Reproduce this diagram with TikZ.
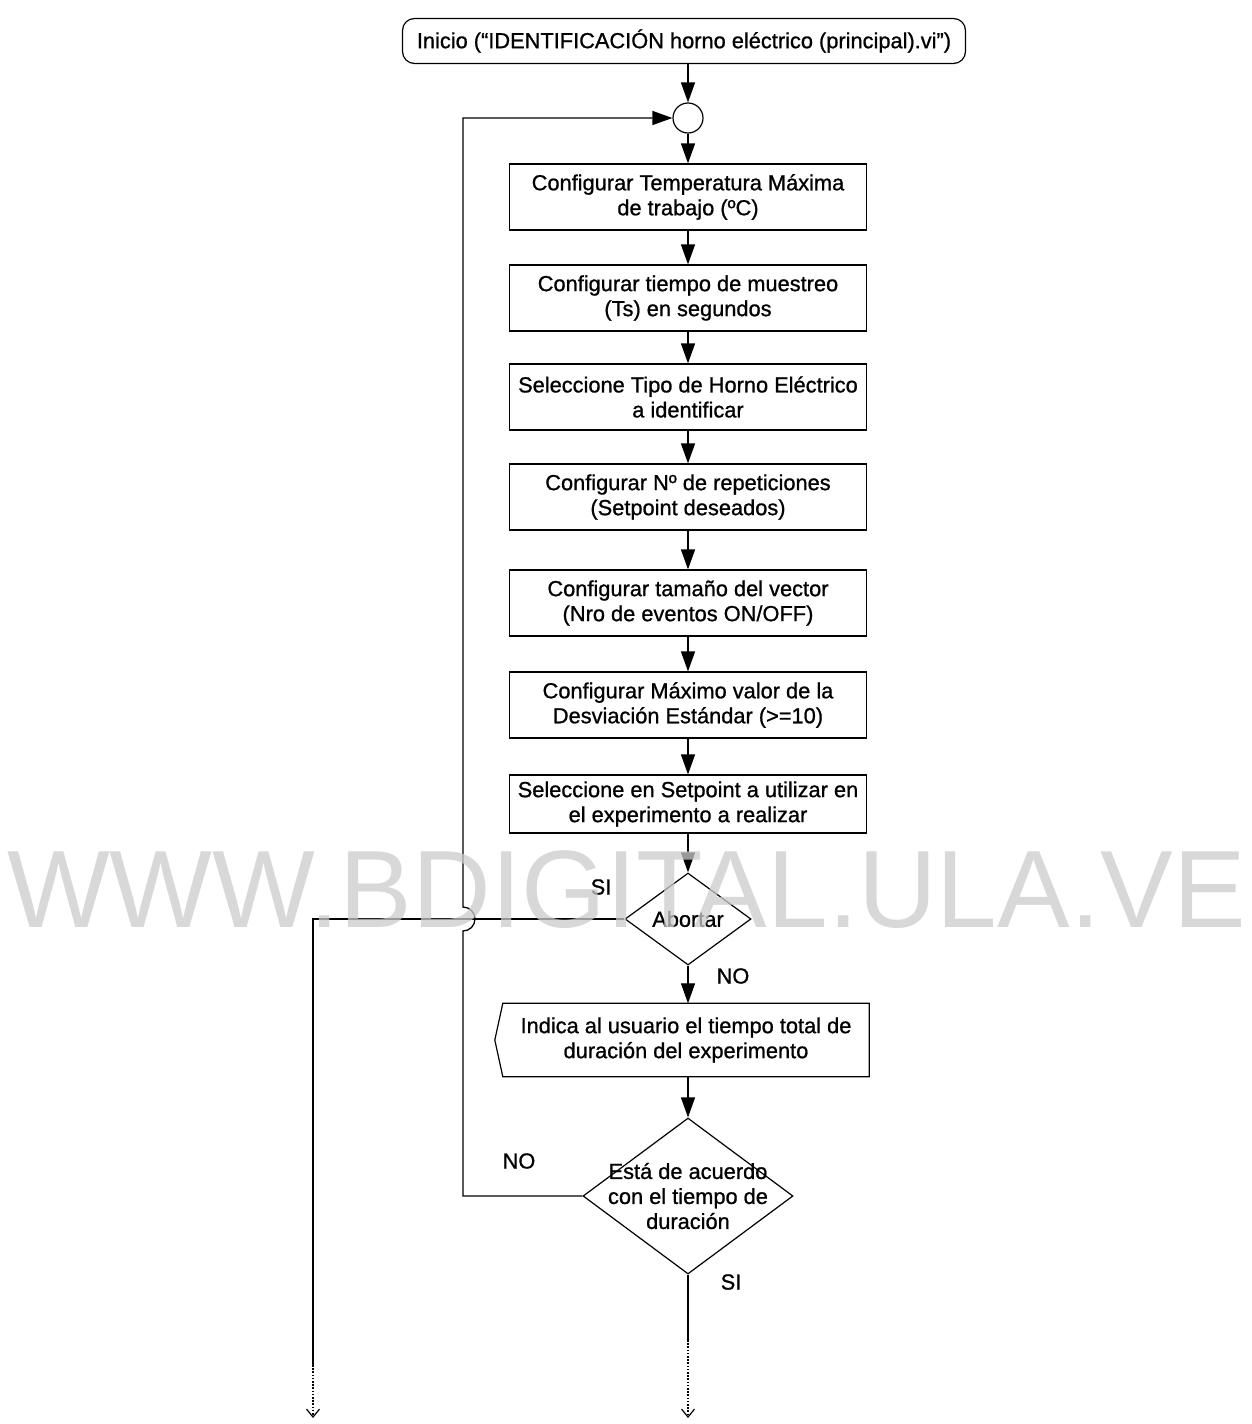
\documentclass[tikz,border=0pt]{standalone}
\usepackage{fontspec}
\setmainfont{Liberation Sans}[FakeBold=0.9]
\newfontfamily\wmfont{Liberation Sans}
\usetikzlibrary{shapes.geometric,arrows.meta}
\begin{document}
\begin{tikzpicture}[x=1pt,y=-1pt,
  every node/.style={font=\fontsize{21.8}{25}\selectfont, align=center},
  arr/.style={line width=1.3pt, -{Triangle[length=20pt,width=14pt]}},
  procbox/.style={draw, line width=1.2pt, rectangle, minimum width=357pt, minimum height=66pt, inner sep=2pt},
  decbox/.style={draw, line width=1.2pt, diamond, inner sep=0pt},
  lbl/.style={inner sep=0pt},
  dotline/.style={line width=1.3pt, dash pattern=on 1.6pt off 1.6pt},
  openend/.style={-{Straight Barb[length=8pt,width=13pt,line width=1.2pt]}},
  wmark/.style={font=\wmfont\fontsize{110}{110}\selectfont, text=black!20, opacity=0.75, inner sep=0pt, anchor=base west}
]
\useasboundingbox (0,0) rectangle (1252,1424);
\fill[white] (0,0) rectangle (1252,1424);

% start
\node[draw, line width=1.2pt, rounded corners=12pt, minimum width=563pt, minimum height=45pt, inner sep=2pt] (start) at (684,41) {Inicio (“IDENTIFICACIÓN horno eléctrico (principal).vi”)};
\node[draw, line width=1.2pt, circle, minimum size=30pt, inner sep=0pt] (circ) at (688,118) {};

\node[procbox] (b1) at (688,197) {Configurar Temperatura Máxima\\de trabajo (ºC)};
\node[procbox] (b2) at (688,298) {Configurar tiempo de muestreo\\(Ts) en segundos};
\node[procbox] (b3) at (688,397) {Seleccione Tipo de Horno Eléctrico\\a identificar};
\node[procbox] (b4) at (688,497) {Configurar Nº de repeticiones\\(Setpoint deseados)};
\node[procbox] (b5) at (688,603) {Configurar tamaño del vector\\(Nro de eventos ON/OFF)};
\node[procbox] (b6) at (688,705) {Configurar Máximo valor de la\\Desviación Estándar (>=10)};
\node[procbox, minimum height=58pt] (b7) at (688,804) {Seleccione en Setpoint a utilizar en\\el experimento a realizar};

\node[decbox, minimum width=126pt, minimum height=92pt] (d1) at (688,919) {};
\node at (d1) {Abortar};

\node[rectangle, minimum width=366pt, minimum height=73pt, inner sep=2pt] (disp) at (686,1040) {Indica al usuario el tiempo total de\\duración del experimento};
\draw[line width=1.2pt] (disp.north west) -- (disp.north east) -- (disp.south east) -- (disp.south west) -- ([xshift=-8pt]disp.west) -- cycle;

\node[decbox, minimum width=210pt, minimum height=156pt] (d2) at (688,1196) {};
\node at (d2) {Está de acuerdo\\con el tiempo de\\duración};

% coordinates
\coordinate (lpb) at (463,1196);
\coordinate (hop) at (463,919);
\coordinate (lpt) at (463,118);
\coordinate (lc) at (313,919);
\coordinate (ls) at (313,1365);
\coordinate (le) at (313,1418);
\coordinate (rs) at (688,1340);
\coordinate (re) at (688,1418);

% connectors
\draw[arr] (circ |- start.south) -- (circ.north);
\draw[arr] (circ.south) -- (b1.north);
\draw[arr] (b1) -- (b2);
\draw[arr] (b2) -- (b3);
\draw[arr] (b3) -- (b4);
\draw[arr] (b4) -- (b5);
\draw[arr] (b5) -- (b6);
\draw[arr] (b6) -- (b7);
\draw[arr] (b7) -- (d1);
\draw[arr] (d1.south) -- (d1.south |- disp.north);
\draw[arr] (d1.south |- disp.south) -- (d2.north);

% loop back (NO)
\draw[arr] (d2.west) -- (lpb) -- ([yshift=-12pt]hop) arc[start angle=-90, end angle=90, radius=12pt] -- (lpt) -- (circ.west);
% abort (SI)
\draw[line width=1.3pt] (d1.west) -- (lc) -- (ls);
\draw[dotline, openend] (ls) -- (le);
% continue (SI)
\draw[line width=1.3pt] (d2.south) -- (rs);
\draw[dotline, openend] (rs) -- (re);

% labels
\node[lbl] (l1) at (601,887) {SI};
\node[lbl] (l2) at (733,976) {NO};
\node[lbl] (l3) at (519,1161) {NO};
\node[lbl] (l4) at (731,1282) {SI};

% watermark
\node[wmark, xscale=0.99] (wm) at (7,927) {WWW.BDIGITAL.ULA.VE};
\end{tikzpicture}
\end{document}
